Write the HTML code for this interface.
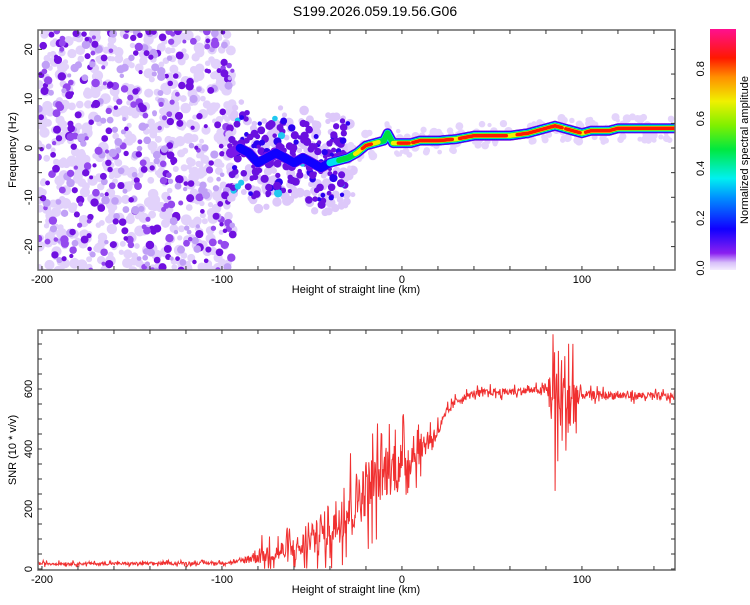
<!DOCTYPE html>
<html><head><meta charset="utf-8"><style>
body{margin:0;background:#fff;font-family:"Liberation Sans",sans-serif}
svg text{font-family:"Liberation Sans",sans-serif;fill:#000}
</style></head><body>
<svg id="c" width="750" height="600" xmlns="http://www.w3.org/2000/svg">
<defs>
<linearGradient id="cb" x1="0" y1="1" x2="0" y2="0">
<stop offset="0" stop-color="#f4ecfe"/><stop offset="0.03" stop-color="#d8c0fa"/><stop offset="0.07" stop-color="#8a20f0"/>
<stop offset="0.17" stop-color="#1000ff"/><stop offset="0.3" stop-color="#0090ff"/><stop offset="0.38" stop-color="#00f0f0"/>
<stop offset="0.5" stop-color="#00e840"/><stop offset="0.6" stop-color="#80f000"/><stop offset="0.7" stop-color="#f0f000"/>
<stop offset="0.8" stop-color="#ff9000"/><stop offset="0.88" stop-color="#ff1800"/><stop offset="1" stop-color="#ff1090"/>
</linearGradient>
<clipPath id="clipTop"><rect x="38" y="30" width="637" height="240"/></clipPath>
<clipPath id="clipBot"><rect x="38" y="330" width="637" height="240"/></clipPath>
</defs>
<text x="375" y="16" font-size="14" text-anchor="middle">S199.2026.059.19.56.G06</text>
<g id="topg" clip-path="url(#clipTop)"></g>
<g id="botg" clip-path="url(#clipBot)"></g>
<g id="axesg"></g>
<rect x="710" y="29" width="26" height="241" fill="url(#cb)"/>
<text transform="translate(744,150) rotate(-90)" font-size="11" text-anchor="middle" dy="4">Normalized spectral amplitude</text>
</svg>
<script>
// ---- data ----
const ridgeH = [-95,-90,-85,-80,-75,-70,-65,-60,-55,-50,-45,-40,-35,-30,-25,-20,-15,-10,-8,-5,0,5,10,15,20,30,40,50,60,70,75,80,85,90,95,100,105,110,115,120,130,140,150];
const ridgeF = [-1,0,-1,-3,-2,-1,-2,-3,-2,-3,-4,-3,-2.5,-2,-1,0.5,1,1.5,3,1,1,1,1.5,1.5,1.5,1.8,2.5,2.5,2.5,3,3.5,4,4.5,4,3.5,3,3.5,3.5,3.5,4,4,4,4];
const ridgeA = [0.1,0.15,0.2,0.2,0.18,0.15,0.2,0.2,0.18,0.2,0.25,0.3,0.45,0.6,0.75,0.88,0.8,0.55,0.5,0.75,0.92,0.8,0.9,0.9,0.95,0.8,0.9,0.97,0.8,0.85,0.95,0.85,0.92,0.8,0.92,0.8,0.85,0.95,0.97,0.97,0.97,0.97,0.97];
const snrH = [-202,-150,-100,-90,-80,-70,-60,-50,-40,-30,-20,-10,0,10,20,25,30,40,50,60,70,80,84,90,96,100,110,150];
const snrMean = [18,18,20,25,45,55,65,85,140,200,270,320,350,400,460,520,560,585,590,590,595,595,590,560,560,580,580,575];
const snrSpread = [14,14,14,18,80,100,120,160,220,260,280,250,220,140,70,45,35,35,35,35,35,35,450,500,400,40,40,35];
const xTicks = [-200,-100,0,100];
const yTopTicks = [-20,-10,0,10,20];
const ySnrTicks = [0,200,400,600];
const cbTicks = [0,0.2,0.4,0.6,0.8];
// ---- scales ----
const X0=38,X1=675, HMIN=-202.2,HMAX=151.7;
const x=h=>X0+(h-HMIN)/(HMAX-HMIN)*(X1-X0);
const yF=f=>148-f*4.93;
const yS=v=>569-v*0.3;
const yC=v=>268-v*244/0.98;
const NS="http://www.w3.org/2000/svg";
function mk(t,p,a){const e=document.createElementNS(NS,t);for(const k in a)e.setAttribute(k,a[k]);p.appendChild(e);return e;}
function interp(xs,ys,v){if(v<=xs[0])return ys[0];for(let i=1;i<xs.length;i++)if(v<=xs[i]){const t=(v-xs[i-1])/(xs[i]-xs[i-1]);return ys[i-1]+t*(ys[i]-ys[i-1]);}return ys[ys.length-1];}
let seed=12345;function rnd(){seed=(seed*1103515245+12345)%2147483648;return seed/2147483648;}
const topG=document.getElementById('topg'),botG=document.getElementById('botg'),axG=document.getElementById('axesg');
// noise texture
for(let i=0;i<650;i++){
  const h=-202+rnd()*108, f=-25+rnd()*50;
  const e=mk('circle',topG,{cx:x(h),cy:yF(f),r:2.5+rnd()*3,fill:'#e2d2fb'});
  
  
}
for(let i=0;i<420;i++){
  const h=-202+rnd()*108, f=-25+rnd()*50, q=rnd();
  const c=q<0.3?'#c0a0f6':(q<0.6?'#9448ee':'#7010e0');
  const e=mk('circle',topG,{cx:x(h),cy:yF(f),r:2+rnd()*2.3,fill:c});
  
  
}
for(let i=0;i<170;i++){
  const h=-97+rnd()*70, f=interp(ridgeH,ridgeF,h)+(rnd()-0.5)*20;
  const e=mk('circle',topG,{cx:x(h),cy:yF(f),r:2.5+rnd()*2.5,fill:'#ddc8fa'});
  
  
}
for(let i=0;i<200;i++){
  const h=-95+rnd()*65, f=interp(ridgeH,ridgeF,h)+(rnd()-0.5)*16;
  const q=rnd();
  const e=mk('circle',topG,{cx:x(h),cy:yF(f),r:2+rnd()*2.2,fill:q<0.75?'#6a10e0':(q<0.93?'#2a00f0':'#20c8f0')});
  
  
}
for(let i=0;i<160;i++){
  const h=-30+rnd()*180, f=interp(ridgeH,ridgeF,h)+(rnd()-0.5)*5;
  const e=mk('circle',topG,{cx:x(h),cy:yF(f),r:2+rnd()*2.5,fill:'#e4d4fb'});
  
  
}
const levels=[[0.05,'#7a18e8',10],[0.15,'#1000ff',8.5],[0.3,'#00e0f0',7],[0.45,'#00e040',5.6],[0.7,'#f0f000',4.4],[0.82,'#ff1800',3.4]];
levels.forEach(([lv,col,w])=>{
  for(let h=-95;h<152;h+=1){
    const a=interp(ridgeH,ridgeA,h), a2=interp(ridgeH,ridgeA,h+1);
    if(Math.min(a,a2)<lv)continue;
    const e=mk('line',topG,{x1:x(h),y1:yF(interp(ridgeH,ridgeF,h)),x2:x(h+1),y2:yF(interp(ridgeH,ridgeF,h+1)),stroke:col,'stroke-width':w,'stroke-linecap':'round'});
    
    
  }
});
// SNR line
let pts=[];
for(let h=-202;h<=152;h+=0.3){
  const m=interp(snrH,snrMean,h), s=interp(snrH,snrSpread,h);
  const u=rnd()-0.5;
  let v=m+u*s*(rnd()<0.25?1.6:0.7); if(v<0)v=rnd()*5;
  pts.push(x(h).toFixed(1)+','+yS(v).toFixed(1));
}
const pl=mk('polyline',botG,{points:pts.join(' '),fill:'none',stroke:'#f03030','stroke-width':1});


function frame(y0,y1,name){
  const r=mk('rect',axG,{x:X0,y:y0,width:X1-X0,height:y1-y0,fill:'none',stroke:'#666','stroke-width':1.5});
  
  
  for(let h=-200;h<=150;h+=20){
    mk('line',axG,{x1:x(h),x2:x(h),y1:y1,y2:y1-4,stroke:'#333'});
    mk('line',axG,{x1:x(h),x2:x(h),y1:y0,y2:y0+4,stroke:'#333'});
  }
  xTicks.forEach(h=>{
    const t=mk('text',axG,{x:x(h),y:y1+13,'font-size':11,'text-anchor':'middle'});t.textContent=h;
    
    
  });
  const xl=mk('text',axG,{x:356,y:y1+23,'font-size':11,'text-anchor':'middle'});xl.textContent='Height of straight line (km)';
  
  
}
frame(30,270,'spectrogram-frame');frame(330,570,'snr-frame');
for(let f=-20;f<=20;f+=5){mk('line',axG,{x1:X0,x2:X0+4,y1:yF(f),y2:yF(f),stroke:'#333'});mk('line',axG,{x1:X1,x2:X1-4,y1:yF(f),y2:yF(f),stroke:'#333'});}
yTopTicks.forEach(f=>{
  const t=mk('text',axG,{transform:`translate(32,${yF(f)}) rotate(-90)`,'font-size':11,'text-anchor':'middle'});t.textContent=f;
  
  
});
for(let v=0;v<=750;v+=50){mk('line',axG,{x1:X0,x2:X0+4,y1:yS(v),y2:yS(v),stroke:'#333'});mk('line',axG,{x1:X1,x2:X1-4,y1:yS(v),y2:yS(v),stroke:'#333'});}
ySnrTicks.forEach(v=>{
  const t=mk('text',axG,{transform:`translate(32,${yS(v)}) rotate(-90)`,'font-size':11,'text-anchor':'middle'});t.textContent=v;
  
  
});
cbTicks.forEach(v=>{
  const t=mk('text',axG,{transform:`translate(704,${yC(v)}) rotate(-90)`,'font-size':11,'text-anchor':'middle'});
  t.textContent=v.toFixed(1);
  
  
});
const yl1=mk('text',axG,{transform:'translate(16,150) rotate(-90)','font-size':11,'text-anchor':'middle'});yl1.textContent='Frequency (Hz)';


const yl2=mk('text',axG,{transform:'translate(16,450) rotate(-90)','font-size':11,'text-anchor':'middle'});yl2.textContent='SNR (10 * v/v)';


</script>
</body></html>
